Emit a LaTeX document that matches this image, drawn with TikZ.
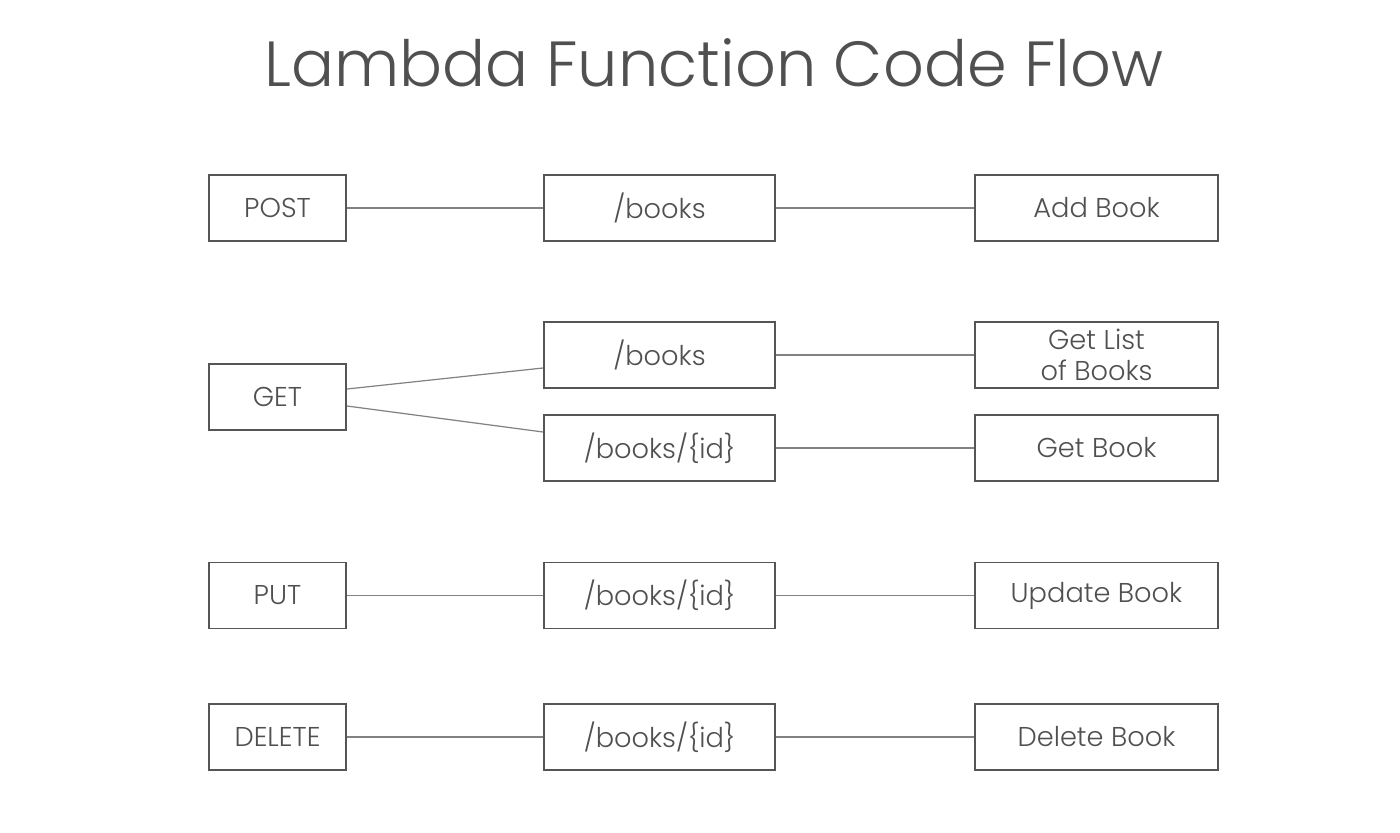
\documentclass[tikz,border=0pt]{standalone}
\usepackage{fontspec}
\setmainfont{Poppins Light}
\usepackage{tikz}
\definecolor{flowgray}{RGB}{85, 85, 85}
\definecolor{flowline}{RGB}{130, 130, 130}
\definecolor{flowtext}{RGB}{80, 80, 80}

\tikzset{
  methodbox/.style={draw=flowgray, line width=1.1pt, minimum width=2.74cm, minimum height=1.32cm, inner sep=0pt, text=flowtext, font=\fontsize{15.5}{18}\selectfont},
  pathbox/.style={methodbox, minimum width=4.62cm},
  actionbox/.style={methodbox, minimum width=4.86cm, align=center},
  link/.style={draw=flowline, line width=0.7pt}
}

\begin{document}
\begin{tikzpicture}[x=0.02cm, y=-0.02cm]
    \useasboundingbox (0,0) rectangle (1400,832);

    % Title
    \node[text=flowtext, font=\fontsize{36.3}{40}\selectfont] (title) at (714,63) {Lambda Function Code Flow};

    % POST row
    \node[methodbox] (post) at (277.5,208) {POST};
    \node[pathbox] (bk1) at (659.5,208) {/books};
    \node[actionbox] (add) at (1096.5,208) {Add Book};

    % GET rows
    \node[methodbox] (get) at (277.5,397) {GET};
    \node[pathbox] (bk2) at (659.5,355) {/books};
    \node[pathbox] (bk3) at (659.5,448) {/books/\{id\}};
    \node[actionbox] (list) at (1096.5,355) {Get List\\of Books};
    \node[actionbox] (getb) at (1096.5,448) {Get Book};

    % PUT row
    \node[methodbox] (put) at (277.5,595.5) {PUT};
    \node[pathbox] (bk4) at (659.5,595.5) {/books/\{id\}};
    \node[actionbox] (upd) at (1096.5,595.5) {Update Book};

    % DELETE row
    \node[methodbox] (del) at (277.5,737) {DELETE};
    \node[pathbox] (bk5) at (659.5,737) {/books/\{id\}};
    \node[actionbox] (delb) at (1096.5,737) {Delete Book};

    % Connectors
    \draw[link] (post) -- (bk1);
    \draw[link] (bk1) -- (add);
    \draw[link] ([yshift=0.16cm]get.east) -- ([yshift=-0.26cm]bk2.west);
    \draw[link] ([yshift=-0.18cm]get.east) -- ([yshift=0.32cm]bk3.west);
    \draw[link] (bk2) -- (list);
    \draw[link] (bk3) -- (getb);
    \draw[link] (put) -- (bk4);
    \draw[link] (bk4) -- (upd);
    \draw[link] (del) -- (bk5);
    \draw[link] (bk5) -- (delb);
\end{tikzpicture}
\end{document}
